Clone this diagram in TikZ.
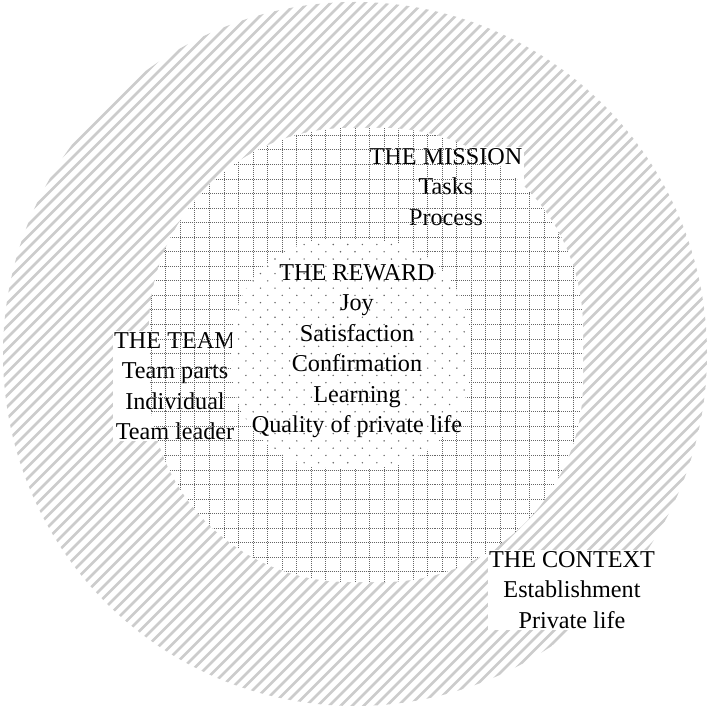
\documentclass[tikz,border=0pt]{standalone}
\usepackage{fontspec}
\setmainfont{Liberation Serif}
\usepackage{xcolor}

\definecolor{hatchgray}{gray}{0.80}
\definecolor{dotgray}{gray}{0.40}

% outlines of the middle ring and of the core (pixel units, y downwards)
\newcommand{\midshape}{(349,128) -- (383,128) arc[start angle=-90, end angle=0, radius=200]
  -- (583,382) arc[start angle=0, end angle=90, radius=200]
  -- (349,582) arc[start angle=90, end angle=180, radius=200]
  -- (149,328) arc[start angle=180, end angle=270, radius=200] -- cycle}
\newcommand{\coreshape}{(332,240) -- (370,240) arc[start angle=-90, end angle=0, radius=100]
  -- (470,368) arc[start angle=0, end angle=90, radius=100]
  -- (332,468) arc[start angle=90, end angle=180, radius=100]
  -- (232,340) arc[start angle=180, end angle=270, radius=100] -- cycle}

\begin{document}
\begin{tikzpicture}[
    x=0.025cm, y=-0.025cm,
    txt/.style={align=center, inner sep=1pt, font=\fontsize{17.2}{21.7}\selectfont},
    clear/.style={fill=white},
    hatch/.style={draw=hatchgray, line width=1.9pt},
    gridline/.style={draw=dotgray, line width=0.65pt, dash pattern=on 0.71pt off 0.71pt},
    dotfill/.style={fill=dotgray}
]
\useasboundingbox (0,0) rectangle (710,707);

\coordinate (ctr) at (355,354);

% outer ring: the context
\begin{scope}
  \clip (ctr) circle [radius=352];
  \foreach \k in {0,11.5,...,1430}
    \draw[hatch] (\k,0) -- (\k-720,720);
\end{scope}
\fill[white] \midshape;

\node[txt, clear] (mission) at (446,187) {THE MISSION\\Tasks\\Process};
\node[txt, clear] (team) at (175,386) {THE TEAM\\Team parts\\Individual\\Team leader};
\node[txt, clear] (context) at (572,590) {THE CONTEXT\\Establishment\\Private life};

% middle ring: dotted grid
\begin{scope}
  \clip \midshape;
  \foreach \i in {-16,...,16} {
    \draw[gridline] ({355+14.55*\i},100) -- ({355+14.55*\i},610);
    \draw[gridline] (120,{353.6+14.55*\i}) -- (600,{353.6+14.55*\i});
  }
\end{scope}

% core: scattered dots
\fill[white] \coreshape;
\begin{scope}
  \clip \coreshape;
  \foreach \i in {-9,...,9}
    \foreach \j in {-9,...,9} {
      \fill[dotfill] ({355+14.55*\i},{353.6+14.55*\j}) circle [radius=0.8];
      \fill[dotfill] ({362.3+14.55*\i},{360.9+14.55*\j}) circle [radius=0.8];
    }
\end{scope}

\node[txt] (reward) at (357,351)
    {THE REWARD\\Joy\\Satisfaction\\Confirmation\\Learning\\Quality of private life};
\end{tikzpicture}
\end{document}
